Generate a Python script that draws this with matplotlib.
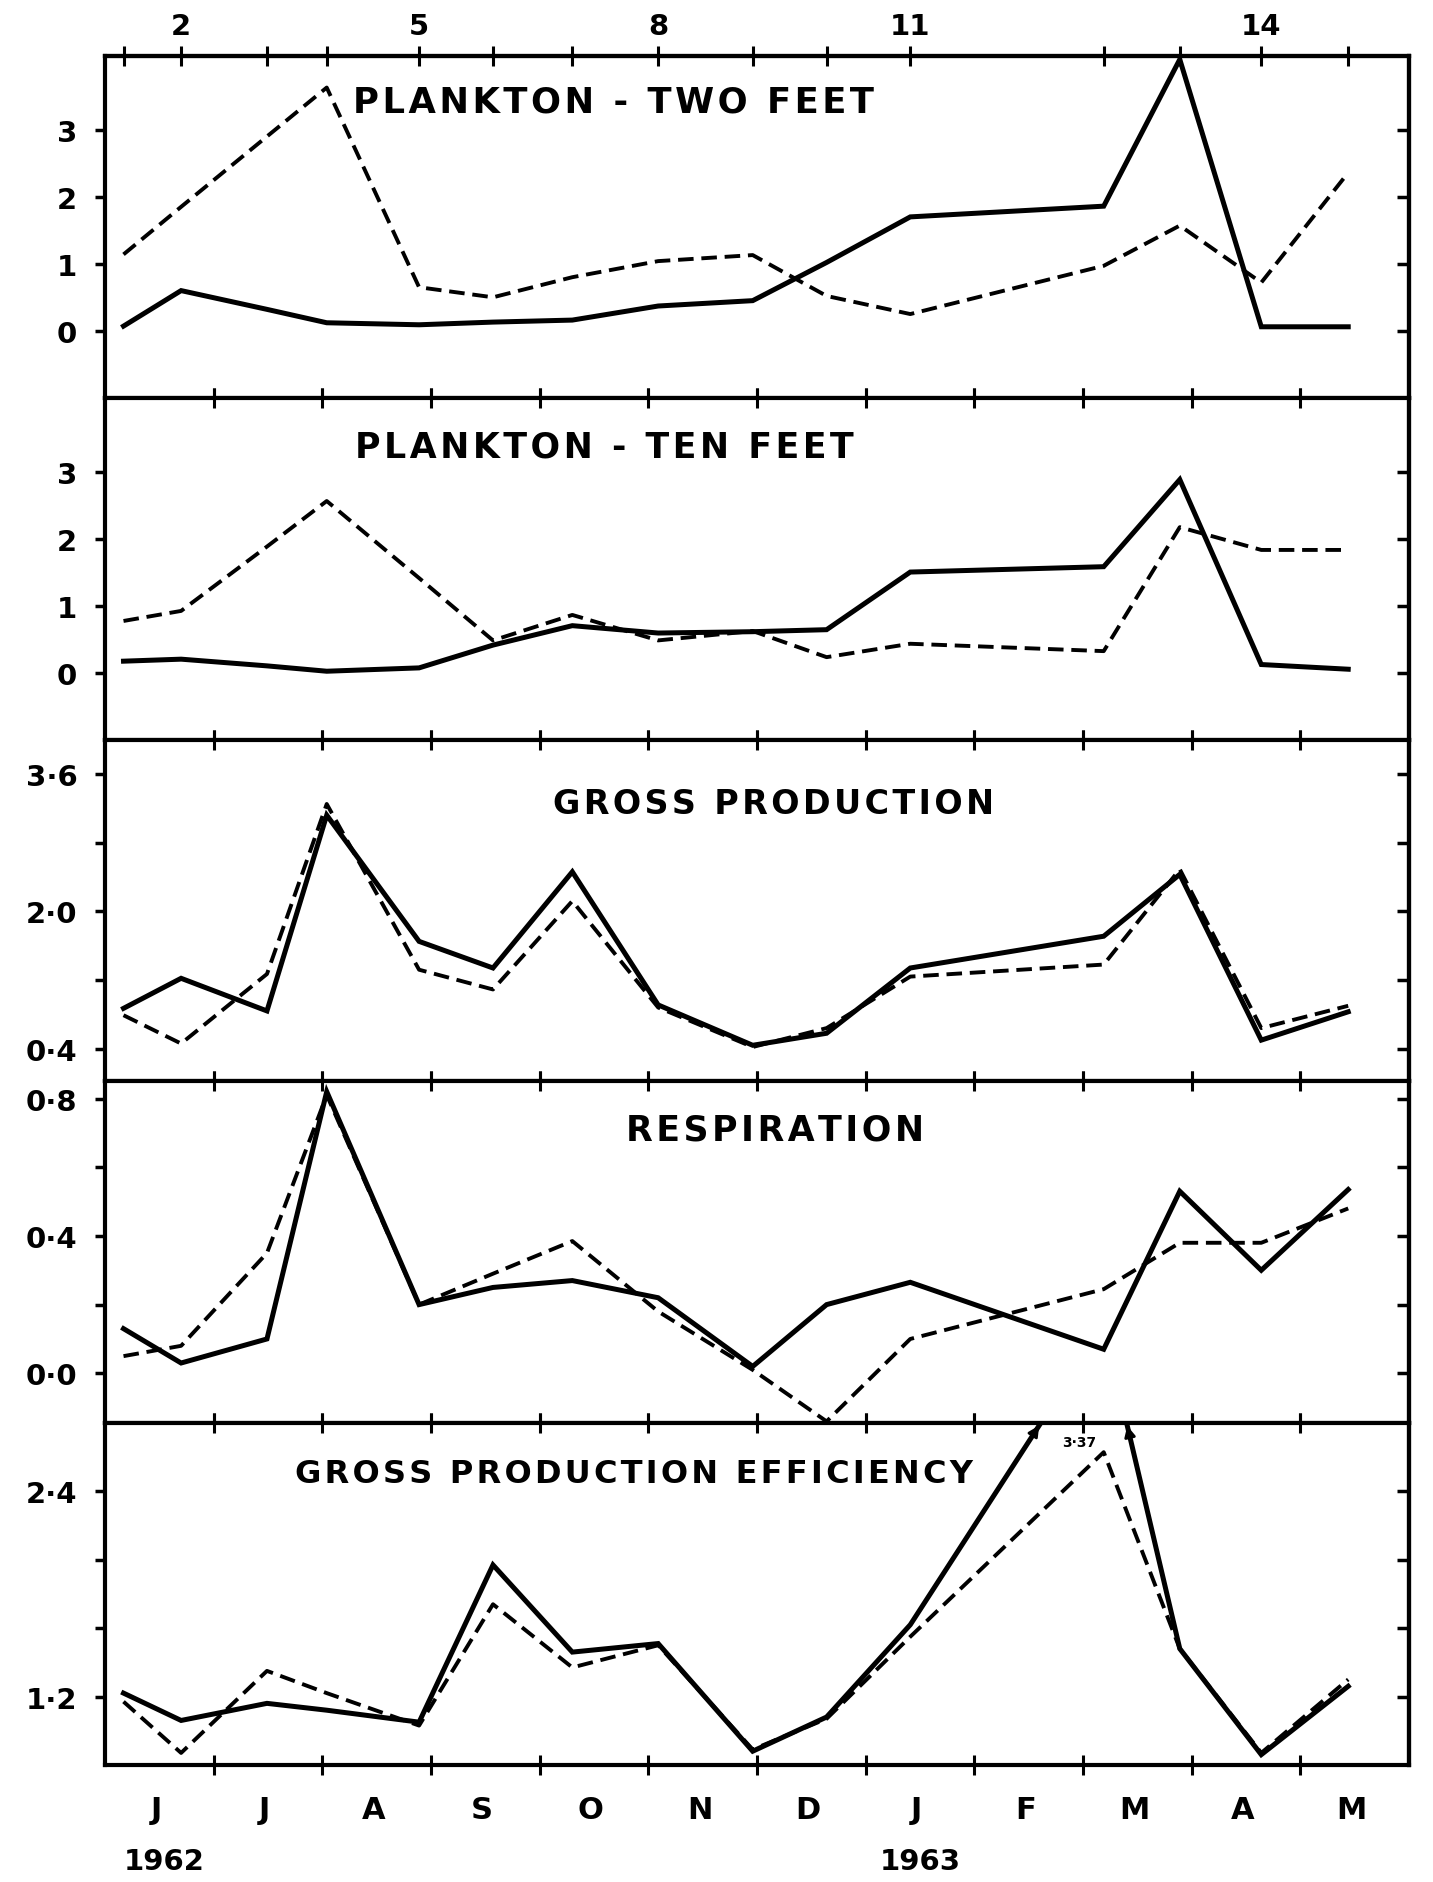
import matplotlib

matplotlib.use("Agg")

import matplotlib.pyplot as plt
import matplotlib.transforms as mtransforms

plt.rcParams["font.family"] = ["DejaVu Sans"]
plt.rcParams["font.weight"] = "bold"

# x axis: months after 1 June 1962; samples are irregularly spaced
sample_month = [0.17, 0.70, 1.49, 2.04, 2.89, 3.57, 4.30, 5.09, 5.96, 6.64, 7.41, 9.19, 9.89, 10.64, 11.44]
sample_no = list(range(1, 16))
top_labels = [2, 5, 8, 11, 14]
month_letters = ["J", "J", "A", "S", "O", "N", "D", "J", "F", "M", "A", "M"]

# ---------------------------------------------------------------------------
# Series values (solid / dashed)
# ---------------------------------------------------------------------------
two_solid = [0.07, 0.60, 0.32, 0.12, 0.09, 0.13, 0.16, 0.37, 0.45, 1.02, 1.70, 1.86, 4.05, 0.06, 0.06]
two_dash = [1.14, 1.85, 2.90, 3.63, 0.65, 0.50, 0.80, 1.04, 1.13, 0.52, 0.25, 0.97, 1.57, 0.72, 2.36]

ten_solid = [0.17, 0.20, 0.10, 0.02, 0.07, 0.41, 0.70, 0.59, 0.61, 0.64, 1.50, 1.58, 2.88, 0.12, 0.05]
ten_dash = [0.77, 0.92, 1.88, 2.56, 1.41, 0.48, 0.86, 0.48, 0.62, 0.23, 0.43, 0.32, 2.17, 1.83, 1.83]

gross_solid = [0.87, 1.22, 0.84, 3.12, 1.65, 1.34, 2.46, 0.91, 0.44, 0.58, 1.34, 1.71, 2.43, 0.50, 0.83]
gross_dash = [0.79, 0.46, 1.27, 3.25, 1.32, 1.09, 2.12, 0.88, 0.42, 0.64, 1.24, 1.38, 2.49, 0.64, 0.90]

resp_solid = [0.13, 0.03, 0.10, 0.82, 0.20, 0.25, 0.27, 0.22, 0.02, 0.20, 0.265, 0.07, 0.53, 0.30, 0.535]
resp_dash = [0.05, 0.08, 0.35, 0.81, 0.20, 0.29, 0.385, 0.18, 0.01, -0.14, 0.10, 0.245, 0.38, 0.38, 0.48]

eff_solid = [1.22, 1.06, 1.16, 1.12, 1.05, 1.97, 1.46, 1.51, 0.88, 1.08, 1.62, 3.37, 1.48, 0.86, 1.26]
eff_dash = [1.17, 0.87, 1.35, 1.22, 1.03, 1.74, 1.37, 1.50, 0.89, 1.07, 1.55, 2.63, 1.48, 0.87, 1.30]

titles = [
    "PLANKTON - TWO FEET",
    "PLANKTON - TEN FEET",
    "GROSS PRODUCTION",
    "RESPIRATION",
    "GROSS PRODUCTION EFFICIENCY",
]
solids = [two_solid, ten_solid, gross_solid, resp_solid, eff_solid]
dashes = [two_dash, ten_dash, gross_dash, resp_dash, eff_dash]
ylims = [(-1.0, 4.1), (-1.0, 4.1), (0.02, 4.0), (-0.145, 0.85), (0.80, 2.80)]
yticks = [[0, 1, 2, 3], [0, 1, 2, 3], [0.4, 1.2, 2.0, 2.8, 3.6], [0.0, 0.2, 0.4, 0.6, 0.8], [1.2, 1.6, 2.0, 2.4]]
ylabels = [[0, 1, 2, 3], [0, 1, 2, 3], [0.4, 2.0, 3.6], [0.0, 0.4, 0.8], [1.2, 2.4]]
title_pos = [(0.39, 0.868), (0.383, 0.857), (0.513, 0.813), (0.514, 0.86), (0.406, 0.854)]
title_size = [25.5, 25, 24, 25, 23]

SPINE_LW = 3.0
FS = 21
HAIR = "\u200a"


def _fmt(v, decimal):
    if decimal:
        return f"{v:.1f}".replace(".", "·")
    return f"{v:.0f}"


def _spaced(s):
    # hand lettering in the original is loosely spaced
    return HAIR.join(s)


fig, axes = plt.subplots(5, 1, figsize=(14.33, 18.83), dpi=100)
fig.subplots_adjust(left=0.0733, right=0.9833, top=0.9697, bottom=0.0622, hspace=0)

for i, ax in enumerate(axes):
    ax.plot(sample_month, solids[i], color="black", lw=3.6, solid_joinstyle="miter")
    ax.plot(sample_month, dashes[i], color="black", lw=2.8, dashes=(4.0, 2.0))
    ax.set_xlim(0, 12)
    ax.set_ylim(*ylims[i])
    for sp in ax.spines.values():
        sp.set_linewidth(SPINE_LW)

    decimal = i >= 2
    ax.set_yticks(yticks[i])
    ax.set_yticklabels([_fmt(v, decimal) if v in ylabels[i] else "" for v in yticks[i]])
    ax.tick_params(axis="y", direction="out", length=7, width=2.5, labelsize=FS, pad=13)

    right = ax.secondary_yaxis("right")
    right.set_yticks(yticks[i])
    right.set_yticklabels([])
    right.tick_params(direction="in", length=9, width=2.5)
    right.spines["right"].set_linewidth(SPINE_LW)

    # month boundaries crossing the panel edges
    ax.set_xticks(range(1, 12))
    ax.set_xticklabels([])
    ax.tick_params(axis="x", which="major", direction="inout", length=15, width=2.2,
                   top=(i > 0), bottom=True)

    ax.text(title_pos[i][0], title_pos[i][1], _spaced(titles[i]), transform=ax.transAxes,
            ha="center", va="center", fontsize=title_size[i], fontweight="bold")

# sample numbers on the top edge
ax1 = axes[0]
top = ax1.secondary_xaxis("top")
top.set_xticks(sample_month)
top.set_xticklabels([str(n) if n in top_labels else "" for n in sample_no])
top.tick_params(direction="inout", length=15, width=2.2, labelsize=FS, pad=4)
top.spines["top"].set_linewidth(SPINE_LW)

# month letters and years along the bottom
ax5 = axes[-1]
ax5.set_xticks([m + 0.47 for m in range(12)], minor=True)
ax5.set_xticklabels(month_letters, minor=True)
ax5.tick_params(axis="x", which="minor", length=0, labelsize=FS + 1, pad=22)
blend = mtransforms.blended_transform_factory(ax5.transData, ax5.transAxes)
ax5.text(0.54, -0.28, "1962", transform=blend, ha="center", va="center", fontsize=FS)
ax5.text(7.5, -0.28, "1963", transform=blend, ha="center", va="center", fontsize=FS)

# off-scale peak of the efficiency curve: arrowheads where it leaves the panel
ytop = ylims[-1][1]
k = eff_solid.index(max(eff_solid))
for j in (k - 1, k + 1):
    x0, y0 = sample_month[j], eff_solid[j]
    x1, y1 = sample_month[k], eff_solid[k]
    run = (x1 - x0) / (y1 - y0)
    xc = x0 + (ytop - y0) * run
    ax5.annotate("", xy=(xc, ytop), xytext=(xc - 0.12 * run, ytop - 0.12),
                 arrowprops=dict(arrowstyle="-|>", color="black", lw=2, mutation_scale=16),
                 annotation_clip=False)
ax5.text(8.96, 2.69, f"{max(eff_solid):.2f}".replace(".", "·"), ha="center", va="center",
         fontsize=10, fontweight="bold")

fig.savefig("out.png", dpi=100)
